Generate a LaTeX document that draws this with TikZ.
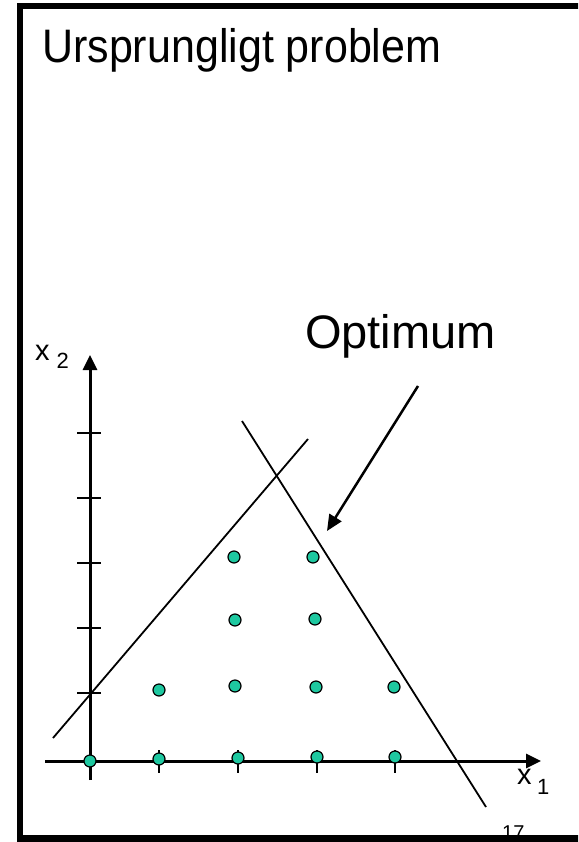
\documentclass[tikz,border=0pt]{standalone}
\usepackage{fontspec}
\setmainfont{Liberation Sans}
\usepackage{xcolor}
\usetikzlibrary{arrows.meta}
\definecolor{dotteal}{RGB}{30,200,160}

\begin{document}
\begin{tikzpicture}[x=1pt, y=-1pt,
  axis/.style={line width=3pt, -{Triangle[length=15pt, width=14pt]}},
  tick/.style={line width=2pt},
  bound/.style={line width=1.8pt},
  latdot/.style={circle, draw=black, line width=1.2pt, fill=dotteal, inner sep=0pt, minimum size=12pt}]
\useasboundingbox (0,0) rectangle (578,842);
\clip (0,0) rectangle (578,842);
% page number, half hidden by the frame
\node[anchor=base west, inner sep=0pt, font=\fontsize{20}{22}\selectfont] (pageno) at (502,839.5) {17};
\draw[line width=6.5pt] (600,6) -- (20,6) -- (20,838.5) -- (600,838.5);
\node[anchor=base west, inner sep=0pt, font=\fontsize{47}{52}\selectfont] (title) at (42,63) {\scalebox{0.915}[1]{Ursprungligt problem}};
% axes
\coordinate (xleft) at (45,761);
\coordinate (xright) at (541,761);
\coordinate (ybot) at (90,780);
\coordinate (ytop) at (90,355);
\draw[axis] (xleft) -- (xright);
\draw[axis] (ybot) -- (ytop);
\foreach \y in {433,498,563,628,693} \draw[tick] (77,\y) -- (101,\y);
\foreach \x in {159,238,317,395} \draw[tick] (\x,750) -- (\x,773);
\node[anchor=base west, inner sep=0pt, font=\fontsize{29}{31}\selectfont] (xlab2) at (35,360) {x\hspace{7pt}\raisebox{-8pt}{\fontsize{22}{24}\selectfont 2}};
\node[anchor=base west, inner sep=0pt, font=\fontsize{29}{31}\selectfont] (xlab1) at (517,784) {x\hspace{5.5pt}\raisebox{-10pt}{\fontsize{22}{24}\selectfont 1}};
% constraints
\coordinate (ca) at (53,738);
\coordinate (cb) at (308,439);
\coordinate (cc) at (242,421);
\coordinate (cd) at (486,807);
\draw[bound] (ca) -- (cb);
\draw[bound] (cc) -- (cd);
% integer points
\foreach \x/\y/\n in {90/761/1,159/759/2,238/758/3,317/757/4,395/757/5,
                      159/690/6,235/686/7,316/687/8,394/687/9,
                      235/620/10,315/619/11,234/557/12,313/557/13}
  \node[latdot] (d\n) at (\x,\y) {};
% optimum
\node[anchor=base west, inner sep=0pt, font=\fontsize{47}{52}\selectfont] (opt) at (305,348) {Optimum};
\coordinate (optfrom) at (418,386);
\coordinate (optto) at (327,531);
\draw[line width=2.5pt, -{Triangle[length=16pt, width=14pt]}] (optfrom) -- (optto);
\end{tikzpicture}
\end{document}
